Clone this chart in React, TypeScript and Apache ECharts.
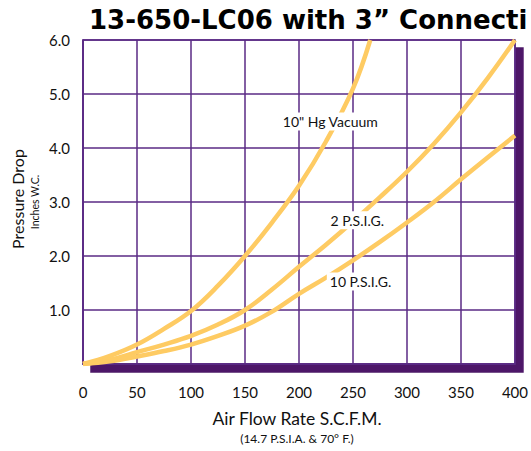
import React, { useEffect, useRef } from "react";
import * as echarts from "echarts";

const titleText = "13-650-LC06 with 3\u201D Connecti";
const xTicks = [0, 50, 100, 150, 200, 250, 300, 350, 400];
const yTicks = [0, 1, 2, 3, 4, 5, 6];

const vacuumFlow = [0, 25, 50, 75, 100, 125, 150, 175, 200, 225, 250, 266];
const vacuumDrop = [0, 0.15, 0.36, 0.65, 0.98, 1.45, 2.0, 2.62, 3.3, 4.12, 5.1, 6.0];

const psigFlow = [0, 25, 50, 75, 100, 125, 150, 175, 200, 225, 250, 275, 300, 325, 350, 375, 400];
const psig2Drop = [0, 0.08, 0.22, 0.36, 0.52, 0.73, 1.0, 1.38, 1.8, 2.21, 2.64, 3.09, 3.56, 4.08, 4.66, 5.3, 6.0];
const psig10Drop = [0, 0.05, 0.14, 0.24, 0.36, 0.52, 0.71, 0.97, 1.3, 1.6, 1.92, 2.26, 2.62, 3.0, 3.42, 3.83, 4.23];

const curveNames = ['10" Hg Vacuum', "2 P.S.I.G.", "10 P.S.I.G."];
const labelFlow = [229, 254, 257];
const labelDrop = [4.49, 2.66, 1.53];

const PURPLE = "#5a2a84";
const SHADOW = "#4e1468";
const YELLOW = "#fecb63";
const FONT = "Lato, 'Noto Sans', sans-serif";

export default function App() {
  const ref = useRef<HTMLDivElement>(null);
  useEffect(() => {
    if (!ref.current) return;
    const chart = echarts.init(ref.current, null, { renderer: "svg" });
    const pairs = (xs: number[], ys: number[]) => xs.map((x, i) => [x, ys[i]]);
    const curves = [pairs(vacuumFlow, vacuumDrop), pairs(psigFlow, psig2Drop), pairs(psigFlow, psig10Drop)];
    chart.setOption({
      animation: false,
      backgroundColor: "#ffffff",
      title: {
        text: titleText,
        left: 84,
        top: 2,
        textStyle: { fontSize: 26, fontWeight: 900, fontFamily: "'DejaVu Sans', sans-serif", color: "#000" },
      },
      grid: {
        left: 83,
        top: 40,
        right: 14,
        bottom: 87,
        show: true,
        backgroundColor: "#ffffff",
        borderColor: PURPLE,
        borderWidth: 1.5,
        shadowColor: SHADOW,
        shadowBlur: 0,
        shadowOffsetX: 8,
        shadowOffsetY: 8,
      },
      xAxis: {
        type: "value",
        min: xTicks[0],
        max: xTicks[xTicks.length - 1],
        interval: 50,
        axisLine: { show: true, lineStyle: { color: PURPLE, width: 1.5 } },
        axisTick: { show: false },
        splitLine: { show: true, lineStyle: { color: PURPLE, width: 1.5 } },
        axisLabel: { margin: 20, fontSize: 15, color: "#111", fontFamily: FONT },
      },
      yAxis: {
        type: "value",
        min: yTicks[0],
        max: yTicks[yTicks.length - 1],
        interval: 1,
        axisLine: { show: true, lineStyle: { color: PURPLE, width: 1.5 } },
        axisTick: { show: false },
        splitLine: { show: true, lineStyle: { color: PURPLE, width: 1.5 } },
        axisLabel: {
          margin: 13,
          fontSize: 15,
          color: "#111",
          fontFamily: FONT,
          formatter: (v: number) => (v === 0 ? "" : v.toFixed(1)),
        },
      },
      graphic: [
        {
          type: "text",
          x: 17,
          y: 199,
          rotation: Math.PI / 2,
          style: { text: "Pressure Drop", fontSize: 16, fontFamily: FONT, fill: "#111", align: "center", verticalAlign: "middle" },
        },
        {
          type: "text",
          x: 35,
          y: 202,
          rotation: Math.PI / 2,
          style: { text: "Inches W.C.", fontSize: 10.5, fontFamily: FONT, fill: "#111", align: "center", verticalAlign: "middle" },
        },
        {
          type: "text",
          x: 297,
          y: 418,
          style: { text: "Air Flow Rate S.C.F.M.", fontSize: 17.5, fontFamily: FONT, fill: "#111", align: "center", verticalAlign: "middle" },
        },
        {
          type: "text",
          x: 297,
          y: 438,
          style: { text: "(14.7 P.S.I.A. & 70\u00B0 F.)", fontSize: 12, fontFamily: FONT, fill: "#111", align: "center", verticalAlign: "middle" },
        },
      ],
      series: curves.map((data, i) => ({
        type: "line",
        name: curveNames[i],
        data,
        smooth: 0.4,
        symbol: "none",
        lineStyle: { color: YELLOW, width: 4.5 },
        z: 3,
        markPoint: {
          symbol: "rect",
          symbolSize: 1,
          itemStyle: { color: "rgba(0,0,0,0)" },
          z: 10,
          label: {
            show: true,
            position: "inside",
            formatter: curveNames[i],
            fontSize: 14,
            fontFamily: FONT,
            color: "#111",
            backgroundColor: "#ffffff",
            padding: [2, 3],
          },
          data: [{ coord: [labelFlow[i], labelDrop[i]] }],
        },
      })),
    });
    return () => chart.dispose();
  }, []);
  return <div ref={ref} style={{ width: 531, height: 451, position: "absolute", left: 0, top: 0 }} />;
}
